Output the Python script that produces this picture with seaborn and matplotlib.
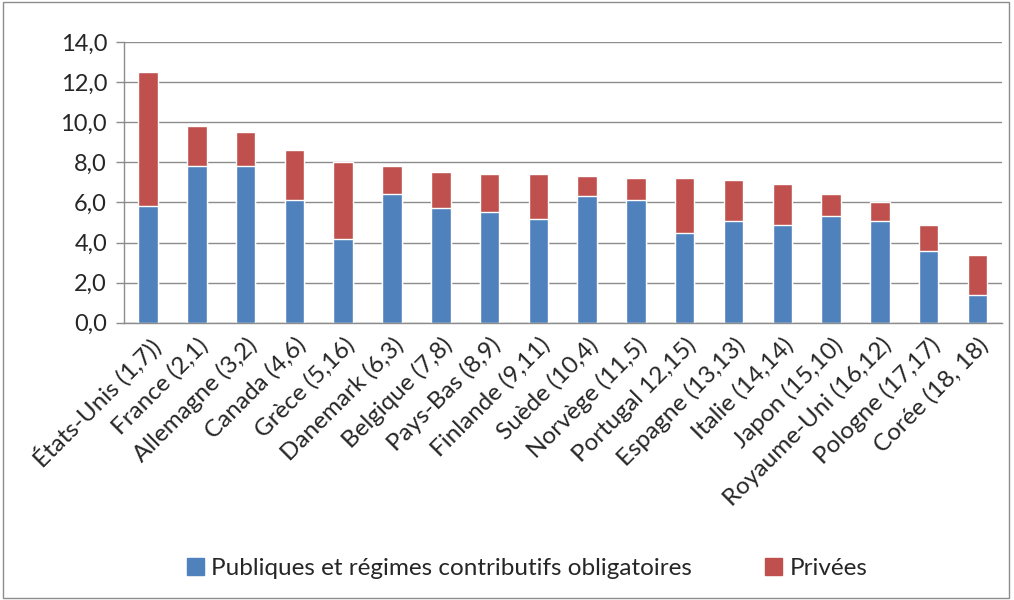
import matplotlib
matplotlib.use("Agg")
import matplotlib.pyplot as plt
import seaborn as sns
import pandas as pd
import numpy as np
from matplotlib.patches import Patch, Rectangle

pays = ["États-Unis (1,7))", "France (2,1)", "Allemagne (3,2)", "Canada (4,6)",
        "Grèce (5,16)", "Danemark (6,3)", "Belgique (7,8)", "Pays-Bas (8,9)",
        "Finlande (9,11)", "Suède (10,4)", "Norvège (11,5)", "Portugal 12,15)",
        "Espagne (13,13)", "Italie (14,14)", "Japon (15,10)", "Royaume-Uni (16,12)",
        "Pologne (17,17)", "Corée (18, 18)"]
publiques = [5.8, 7.8, 7.8, 6.1, 4.2, 6.4, 5.7, 5.5, 5.2, 6.3, 6.1, 4.5, 5.1, 4.9, 5.3, 5.1, 3.6, 1.4]
privees = [6.7, 2.0, 1.7, 2.5, 3.8, 1.4, 1.8, 1.9, 2.2, 1.0, 1.1, 2.7, 2.0, 2.0, 1.1, 0.9, 1.3, 2.0]

df = pd.DataFrame({"Pays": pays, "Publiques": publiques, "Privees": privees})
df["Total"] = df["Publiques"] + df["Privees"]

bleu = "#4F81BD"
rouge = "#C0504D"

sns.set_style("white")
plt.rcParams['font.family'] = ['Lato', 'DejaVu Sans']

fig = plt.figure(figsize=(10.14, 6), dpi=100)
ax = fig.add_axes([0.122, 0.462, 0.866, 0.468])

# stacked: total in red, public part drawn over it
sns.barplot(data=df, x="Pays", y="Total", color=rouge, width=0.4, saturation=1, ax=ax)
sns.barplot(data=df, x="Pays", y="Publiques", color=bleu, width=0.4, saturation=1, ax=ax)

ax.set_ylim(0, 14)
ax.set_xlim(-0.5, len(pays) - 0.5)
ax.set_yticks(np.arange(0, 14.1, 2))
ax.set_yticklabels([f"{v:.1f}".replace(".", ",") for v in np.arange(0, 14.1, 2)], fontsize=17)
ax.yaxis.grid(True, color="#8c8c8c", linewidth=1)
ax.set_axisbelow(True)
ax.set_xlabel("")
ax.set_ylabel("")

# category boundary ticks like Excel
ax.set_xticks(np.arange(len(pays)))
ax.set_xticklabels(pays, rotation=45, ha="right", rotation_mode="anchor", fontsize=17.5)
ax.tick_params(axis="x", length=0, pad=8)
ax.set_xticks(np.arange(-0.5, len(pays)), minor=True)
ax.tick_params(axis="x", which="minor", length=6, color="#8c8c8c", width=1)
ax.tick_params(axis="y", length=6, color="#8c8c8c", width=1, left=True, pad=6)

for s in ["top", "right"]:
    ax.spines[s].set_visible(False)
for s in ["left", "bottom"]:
    ax.spines[s].set_color("#8c8c8c")
    ax.spines[s].set_linewidth(1)

handles = [Patch(color=bleu, label="Publiques et régimes contributifs obligatoires"),
           Patch(color=rouge, label="Privées")]
fig.legend(handles=handles, loc="center", bbox_to_anchor=(0.52, 0.053), ncol=2,
           frameon=False, fontsize=17.5, handlelength=0.7, handleheight=0.7,
           handletextpad=0.3, columnspacing=3.0)

fig.patches.append(Rectangle((0.003, 0.003), 0.992, 0.994, transform=fig.transFigure,
                             fill=False, edgecolor="#8c8c8c", linewidth=1))

fig.savefig("out.png", dpi=100)
